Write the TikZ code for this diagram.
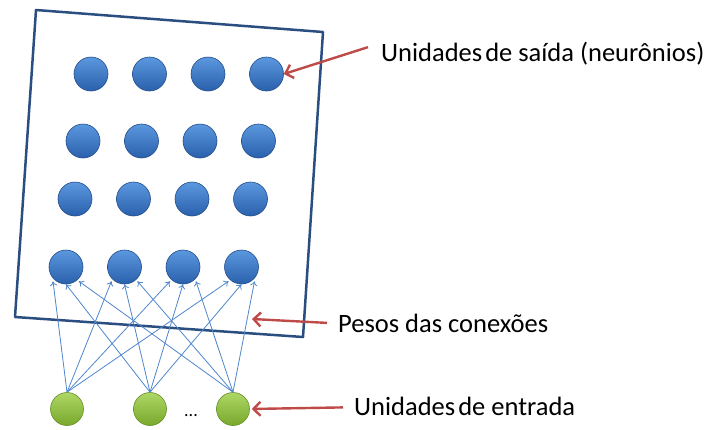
\documentclass[tikz,border=0pt]{standalone}
\usepackage{fontspec}
\setmainfont{Carlito}
\usetikzlibrary{arrows.meta}
\definecolor{frameblue}{HTML}{2B4E80}
\definecolor{unittop}{HTML}{5B98DE}
\definecolor{unitbot}{HTML}{2A60AC}
\definecolor{greentop}{HTML}{AED765}
\definecolor{greenbot}{HTML}{78A82C}
\definecolor{linkblue}{HTML}{4F86CC}
\definecolor{pointred}{HTML}{BE4B48}
\tikzset{
  saida/.style={circle, minimum size=34pt, inner sep=0pt, draw=unitbot!80!black, line width=0.6pt,
    top color=unittop, bottom color=unitbot},
  entrada/.style={circle, minimum size=33pt, inner sep=0pt, draw=greenbot!85!black, line width=0.6pt,
    top color=greentop, bottom color=greenbot},
  peso/.style={linkblue, line width=0.8pt, -{To[length=4.5pt,width=7pt]}},
  seta/.style={pointred, line width=2.4pt, -{Straight Barb[length=7pt,width=14pt]}},
  rotulo/.style={font=\fontsize{26.5}{30}\selectfont, inner sep=0pt, anchor=base west}
}

\begin{document}
\begin{tikzpicture}[x=1pt,y=-1pt]
  \useasboundingbox (0,0) rectangle (710,429);
  % moldura
  \draw[frameblue, line width=2.5pt, line join=round] (36,10) -- (323,32) -- (303,337) -- (15,317) -- cycle;
  % unidades de saida
  \foreach \r/\x/\y in {1/91/74, 2/83/141, 3/75/199, 4/66/267}{
    \foreach \c in {1,...,4}{
      \node[saida] (b\r\c) at ({\x+58.5*(\c-1)},\y) {};
    }
  }
  % unidades de entrada
  \foreach \i/\x in {1/67, 2/150, 3/233}
    \node[entrada] (g\i) at (\x,409) {};
  \node[font=\fontsize{18}{20}\selectfont, inner sep=0pt] (dots) at (191,416) {...};
  % pesos
  \foreach \i in {1,2,3}
    \foreach \j in {1,...,4}
      \draw[peso] (g\i.north) -- ([xshift={(\i-2)*13pt}, yshift={abs(\i-2)*3pt}]b4\j.south);
  % rotulos
  \node[rotulo] (tsaida) at (381,61) {Unidades\hspace{3pt}de saída (neurônios)};
  \node[rotulo] (tpesos) at (338,332) {Pesos das conexões};
  \node[rotulo] (tentrada) at (354,415) {Unidades\hspace{3pt}de entrada};
  \coordinate (alvo) at (252,319);
  \draw[seta] ([xshift=-13pt,yshift=6pt]tsaida.west) -- (b14.east);
  \draw[seta] ([xshift=-11pt]tpesos.west) -- (alvo);
  \draw[seta, shorten >=2pt] ([xshift=-11pt,yshift=-1.5pt]tentrada.west) -- (g3.east);
\end{tikzpicture}
\end{document}
